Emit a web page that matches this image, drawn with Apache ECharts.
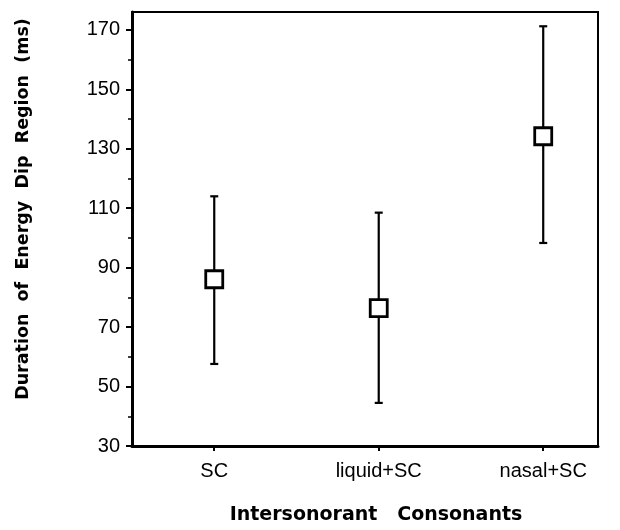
<!DOCTYPE html>
<html>
<head>
<meta charset="utf-8">
<script src="https://cdn.jsdelivr.net/npm/echarts@6/dist/echarts.min.js"></script>
<style>html,body{margin:0;padding:0;background:#fff}#c{width:620px;height:530px}</style>
</head>
<body>
<div id="c"></div>
<script>
const categories = ['SC', 'liquid+SC', 'nasal+SC'];
const positions = [1, 2, 3];
const means = [86.1, 76.4, 134.2];
const upper = [114.0, 108.5, 171.2];
const lower = [57.6, 44.5, 98.3];
const yMajorTicks = [30, 50, 70, 90, 110, 130, 150, 170];
const yMinorTicks = [40, 60, 80, 100, 120, 140, 160];

const chart = echarts.init(document.getElementById('c'), null, {renderer: 'canvas'});
const errData = positions.map((p, i) => [p, lower[i], upper[i]]);
const meanData = positions.map((p, i) => [p, means[i]]);

chart.setOption({
  animation: false,
  backgroundColor: '#fff',
  grid: {left: 132, right: 22, top: 12, bottom: 84, show: true, borderColor: '#000', borderWidth: 2, backgroundColor: 'transparent'},
  xAxis: {
    type: 'value', min: 0.5, max: 3.333,
    name: 'Intersonorant   Consonants', nameLocation: 'middle', nameGap: 60,
    nameTextStyle: {fontFamily: 'DejaVu Sans', fontWeight: 'bold', fontSize: 19, color: '#000', padding: [0, 0, 0, 22]},
    axisLine: {show: true, lineStyle: {color: '#000', width: 3}},
    axisTick: {show: true, customValues: positions, length: 5, lineStyle: {color: '#000', width: 2}},
    axisLabel: {customValues: positions, margin: 15, fontFamily: 'Liberation Sans', fontSize: 20, color: '#000',
      formatter: v => categories[positions.indexOf(Math.round(v))] || ''},
    splitLine: {show: false}
  },
  yAxis: [{
    type: 'value', min: 30, max: 176,
    name: 'Duration  of  Energy  Dip  Region  (ms)', nameLocation: 'middle', nameGap: 100, nameRotate: 90,
    nameTextStyle: {fontFamily: 'DejaVu Sans', fontWeight: 'bold', fontSize: 17.5, color: '#000', padding: [0, 0, 0, 40]},
    axisLine: {show: true, lineStyle: {color: '#000', width: 3}},
    axisTick: {show: true, customValues: yMajorTicks, length: 6, lineStyle: {color: '#000', width: 2}},
    axisLabel: {customValues: yMajorTicks, margin: 12, fontFamily: 'Liberation Sans', fontSize: 20, color: '#000'},
    splitLine: {show: false}
  }, {
    type: 'value', min: 30, max: 176, position: 'left',
    axisLine: {show: false},
    axisTick: {show: true, customValues: yMinorTicks, length: 4, lineStyle: {color: '#000', width: 1.5}},
    axisLabel: {show: false},
    splitLine: {show: false}
  }],
  series: [{
    type: 'custom',
    data: errData,
    z: 2,
    renderItem: (params, api) => {
      const x = api.value(0);
      const lo = api.coord([x, api.value(1)]);
      const hi = api.coord([x, api.value(2)]);
      const cap = 4;
      const style = {stroke: '#000', lineWidth: 2.2};
      return {type: 'group', children: [
        {type: 'line', shape: {x1: lo[0], y1: lo[1], x2: hi[0], y2: hi[1]}, style},
        {type: 'line', shape: {x1: lo[0] - cap, y1: lo[1], x2: lo[0] + cap, y2: lo[1]}, style},
        {type: 'line', shape: {x1: hi[0] - cap, y1: hi[1], x2: hi[0] + cap, y2: hi[1]}, style}
      ]};
    }
  }, {
    type: 'scatter',
    data: meanData,
    z: 3,
    symbol: 'rect',
    symbolSize: 17,
    itemStyle: {color: '#fff', borderColor: '#000', borderWidth: 2.8, opacity: 1}
  }]
});
</script>
</body>
</html>
